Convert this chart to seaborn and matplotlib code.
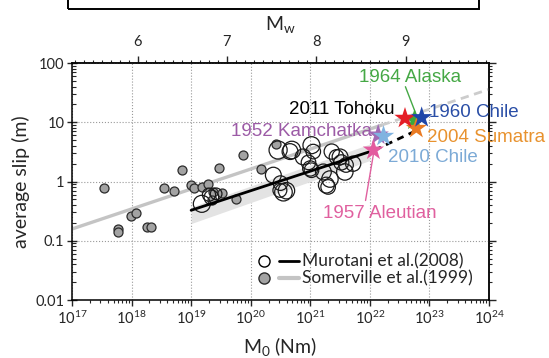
import numpy as np
import pandas as pd
import seaborn as sns
import matplotlib
matplotlib.use("Agg")
import matplotlib.pyplot as plt
from matplotlib.lines import Line2D
from matplotlib.patches import Rectangle
from matplotlib.legend_handler import HandlerTuple
from matplotlib.ticker import MultipleLocator, LogLocator, NullFormatter, FormatStrFormatter

sns.set_style("ticks")
plt.rcParams["font.family"] = ["Lato", "DejaVu Sans"]
plt.rcParams["mathtext.fontset"] = "custom"
plt.rcParams["mathtext.rm"] = "Lato"
plt.rcParams["mathtext.it"] = "Lato:italic"

# Somerville et al. (1999) events: log10 M0 (Nm), average slip (m)
somerville_logm0 = [17.54, 17.78, 17.78, 17.99, 18.07, 18.26, 18.33, 18.54, 18.71,
                    18.85, 19.00, 19.04, 19.18, 19.28, 19.37, 19.47, 19.52, 19.35,
                    19.76, 19.87, 20.18, 20.42]
somerville_slip = [0.77, 0.16, 0.14, 0.26, 0.29, 0.17, 0.17, 0.78, 0.69,
                   1.55, 0.87, 0.77, 0.81, 0.91, 0.66, 1.68, 0.64, 0.48,
                   0.51, 2.75, 1.60, 4.30]

# Murotani et al. (2008) events
murotani_logm0 = [19.18, 19.34, 19.42, 19.30, 20.38, 20.46, 20.50, 20.55, 20.60,
                  20.66, 20.69, 20.88, 20.97, 21.00, 21.02, 21.05, 21.27, 21.30,
                  21.33, 21.36, 21.44, 21.50, 21.52, 21.58, 21.60, 21.72, 21.22,
                  21.02, 20.49]
murotani_slip = [0.42, 0.54, 0.62, 0.60, 1.28, 3.40, 0.94, 0.66, 0.70,
                 3.20, 3.40, 2.60, 2.10, 1.66, 4.10, 3.20, 0.87, 0.81,
                 1.10, 3.20, 2.60, 2.60, 2.10, 1.45, 1.90, 2.00, 1.45,
                 1.55, 0.71]
murotani_area = [150, 110, 70, 90, 130, 170, 110, 160, 140,
                 130, 160, 130, 110, 120, 150, 110, 130, 110,
                 140, 120, 110, 130, 120, 140, 110, 120, 130,
                 110, 100]

# great earthquakes
quake_names = ["1952 Kamchatka", "2010 Chile", "1957 Aleutian", "1964 Alaska",
               "2004 Sumatra", "2011 Tohoku", "1960 Chile"]
quake_logm0 = [22.14, 22.23, 22.06, 22.75, 22.78, 22.59, 22.87]
quake_slip = [6.1, 5.8, 3.4, 10.9, 7.9, 11.7, 12.0]
quake_colors = ["#a06ab4", "#80b3e0", "#e35b9f", "#3aa83a", "#ea7a22", "#e41e26", "#1f46a8"]

# scaling relations
murotani_line_logm0 = [19.0, 22.08]
murotani_line_slip = [0.327, 3.39]
murotani_ext_logm0 = [22.08, 22.80]
murotani_ext_slip = [3.39, 7.4]
band_logm0 = [19.0, 22.0]
band_lo = [0.195, 2.26]
band_hi = [0.37, 4.29]
somerville_line_logm0 = [17.0, 22.2]
somerville_line_slip = [0.158, 8.96]
somerville_ext_logm0 = [22.2, 24.0]
somerville_ext_slip = [8.96, 36.0]

som = pd.DataFrame({"M0": np.power(10.0, somerville_logm0), "slip": somerville_slip})
mur = pd.DataFrame({"M0": np.power(10.0, murotani_logm0), "slip": murotani_slip,
                    "area": murotani_area})
eq = pd.DataFrame({"name": quake_names, "M0": np.power(10.0, quake_logm0),
                   "slip": quake_slip})

fig = plt.figure(figsize=(5.49, 3.58), dpi=100)
ax = fig.add_axes([0.1311, 0.162, 0.7596, 0.662])
ax.set_xscale("log")
ax.set_yscale("log")
ax.set_xlim(1e17, 1e24)
ax.set_ylim(0.01, 100)

ax.grid(True, which="major", ls=":", color="#9a9a9a", lw=0.8)

ax.fill_between(np.power(10.0, band_logm0), band_lo, band_hi, color="#e3e3e3", lw=0, zorder=1)
ax.plot(np.power(10.0, somerville_line_logm0), somerville_line_slip, color="#c4c4c4", lw=2.4, zorder=2)
ax.plot(np.power(10.0, somerville_ext_logm0), somerville_ext_slip, color="#cccccc", lw=2.0,
        ls=(0, (3, 2)), zorder=2)

sns.scatterplot(data=som, x="M0", y="slip", ax=ax, color="#a3a3a3", edgecolor="#2b2b2b",
                linewidth=0.9, s=42, zorder=3, legend=False)
sns.scatterplot(data=mur, x="M0", y="slip", size="area", sizes=(70, 170), size_norm=(70, 170),
                ax=ax, facecolor="none", edgecolor="#1a1a1a", linewidth=0.9, zorder=3,
                legend=False)

ax.plot(np.power(10.0, murotani_line_logm0), murotani_line_slip, color="black", lw=2.0, zorder=4)
ax.plot(np.power(10.0, murotani_ext_logm0), murotani_ext_slip, color="black", lw=2.0,
        ls=(0, (2.5, 2)), zorder=4)

sns.scatterplot(data=eq, x="M0", y="slip", hue="name", palette=quake_colors, marker="*",
                s=260, edgecolor="none", ax=ax, zorder=5, legend=False)

# event labels
lab_font = dict(family=["Liberation Sans", "DejaVu Sans"], fontsize=13.5)
ax.text(10**21.53, 16.5, "2011 Tohoku", color="black", ha="center", va="center", **lab_font)
ax.text(10**22.67, 56, "1964 Alaska", color="#45a845", ha="center", va="center", **lab_font)
ax.text(10**23.0, 14.4, "1960 Chile", color="#2a4ea6", ha="left", va="center", **lab_font)
ax.text(10**22.96, 5.6, "2004 Sumatra", color="#e8922e", ha="left", va="center", **lab_font)
ax.text(10**22.30, 2.57, "2010 Chile", color="#7caad6", ha="left", va="center", **lab_font)
ax.text(10**22.17, 0.29, "1957 Aleutian", color="#e0609f", ha="center", va="center", **lab_font)
ax.text(10**20.85, 6.9, "1952 Kamchatka", color="#9c5ba6", ha="center", va="center", **lab_font)
ax.annotate("", xy=(10**22.80, 11.8), xytext=(10**22.58, 44),
            arrowprops=dict(arrowstyle="-", color="#45a845", lw=1.0))
ax.annotate("", xy=(10**22.07, 3.3), xytext=(10**21.92, 0.43),
            arrowprops=dict(arrowstyle="-", color="#e0609f", lw=1.0))

# axes styling
for s in ax.spines.values():
    s.set_linewidth(1.1)
    s.set_color("black")
ax.xaxis.set_major_locator(LogLocator(base=10, numticks=20))
ax.xaxis.set_minor_locator(LogLocator(base=10, subs=np.arange(2, 10), numticks=20))
ax.yaxis.set_major_locator(LogLocator(base=10, numticks=20))
ax.yaxis.set_minor_locator(LogLocator(base=10, subs=np.arange(2, 10), numticks=20))
ax.yaxis.set_minor_formatter(NullFormatter())
ax.xaxis.set_minor_formatter(NullFormatter())
ax.set_yticks([0.01, 0.1, 1, 10, 100], ["0.01", "0.1", "1", "10", "100"])
ax.tick_params(axis="x", which="major", direction="out", length=4, width=1, labelsize=10.5,
               top=False, pad=3)
ax.tick_params(axis="x", which="minor", direction="out", length=2.5, width=0.8, top=False)
ax.tick_params(axis="y", which="major", direction="inout", length=7, width=1, labelsize=10.5,
               right=False, pad=2)
ax.tick_params(axis="y", which="minor", direction="in", length=3, width=0.8, right=False)
ax.set_xlabel(r"$\mathregular{M_0}$ (Nm)", fontsize=14, labelpad=6)
ax.set_ylabel("average slip (m)", fontsize=14, labelpad=4)

ident = (lambda v: v, lambda v: v)
rax = ax.secondary_yaxis("right", functions=ident)
rax.yaxis.set_major_locator(LogLocator(base=10, numticks=20))
rax.yaxis.set_minor_locator(LogLocator(base=10, subs=np.arange(2, 10), numticks=20))
rax.yaxis.set_major_formatter(NullFormatter())
rax.yaxis.set_minor_formatter(NullFormatter())
rax.tick_params(which="major", direction="out", length=5, width=1, labelright=False)
rax.tick_params(which="minor", direction="out", length=2.5, width=0.8, labelright=False)
rax.spines["right"].set_linewidth(1.1)


def m0_to_mw(x):
    return (2.0 / 3.0) * (np.log10(np.clip(x, 1e-300, None)) - 9.1)


def mw_to_m0(mw):
    return np.power(10.0, 1.5 * np.asarray(mw) + 9.1)


tax = ax.secondary_xaxis("top", functions=(m0_to_mw, mw_to_m0))
tax.set_xscale("linear")
tax.xaxis.set_major_locator(MultipleLocator(1))
tax.xaxis.set_minor_locator(MultipleLocator(0.1))
tax.xaxis.set_major_formatter(FormatStrFormatter("%d"))
tax.xaxis.set_minor_formatter(NullFormatter())
tax.tick_params(which="major", direction="out", length=5, width=1, labelsize=10.5, pad=5)
tax.tick_params(which="minor", direction="out", length=2.5, width=0.8)
tax.spines["top"].set_linewidth(1.1)
tax.set_xlabel(r"$\mathregular{M_w}$", fontsize=14, labelpad=4)

handles = [
    (Line2D([], [], ls="none", marker="o", mfc="white", mec="black", ms=8, mew=1.0),
     Line2D([], [], color="black", lw=2.0)),
    (Line2D([], [], ls="none", marker="o", mfc="#a3a3a3", mec="#2b2b2b", ms=8, mew=1.0),
     Line2D([], [], color="#c4c4c4", lw=3.0)),
]
ax.legend(handles, ["Murotani et al.(2008)", "Somerville et al.(1999)"],
          handler_map={tuple: HandlerTuple(ndivide=None, pad=0.3)},
          loc="lower right", bbox_to_anchor=(0.99, 0.005), frameon=False,
          fontsize=12.5, handlelength=2.6, handletextpad=0.15, labelspacing=0.05,
          borderpad=0.2)

# frame of the panel above (cropped)
fig.add_artist(Rectangle((68 / 549, 1 - 9 / 358), (479 - 68) / 549, 0.2,
                         transform=fig.transFigure, fill=False, lw=1.4, ec="black"))

fig.savefig("out.png", dpi=100)
